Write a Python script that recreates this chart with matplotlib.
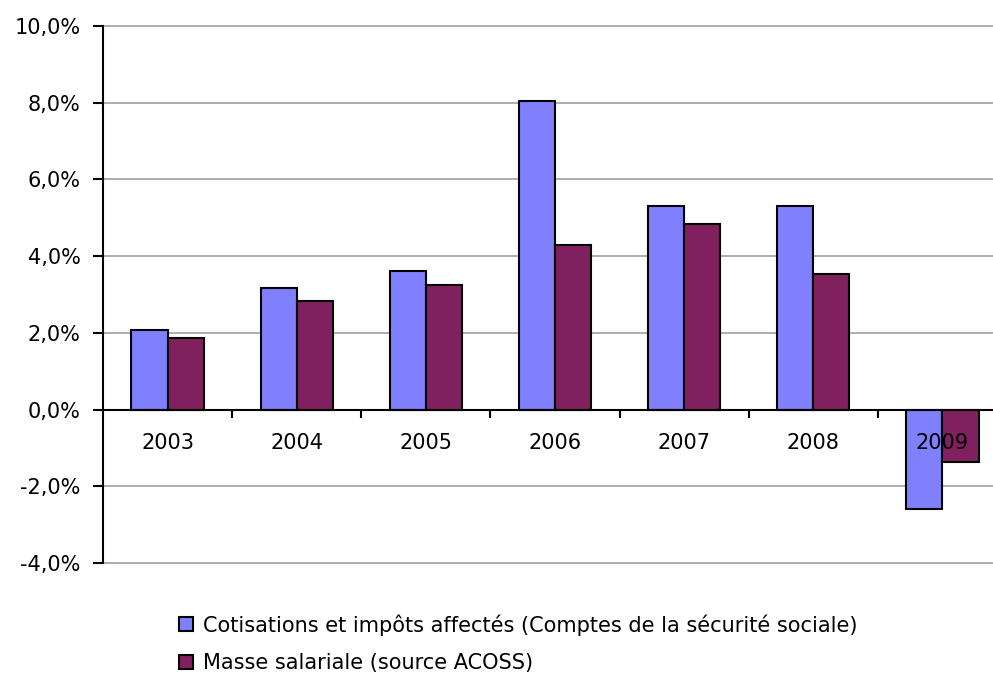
import matplotlib
matplotlib.use("Agg")
import matplotlib.pyplot as plt
import numpy as np

years = ["2003", "2004", "2005", "2006", "2007", "2008", "2009"]
cotisations = [2.08, 3.17, 3.60, 8.04, 5.31, 5.31, -2.58]
masse_salariale = [1.86, 2.84, 3.26, 4.30, 4.83, 3.53, -1.36]
series_labels = ["Cotisations et impôts affectés (Comptes de la sécurité sociale)",
                 "Masse salariale (source ACOSS)"]
yticks = [-4, -2, 0, 2, 4, 6, 8, 10]

plt.rcParams['font.family'] = ['DejaVu Sans']
fs = 15

W, H = 993, 675
fig = plt.figure(figsize=(W / 100, H / 100), dpi=100)
left, right, top, bottom = 103, 1007, 26, 563
ax = fig.add_axes([left / W, 1 - bottom / H, (right - left) / W, (bottom - top) / H])

x = np.arange(len(years))
bw = 0.28
ax.bar(x - bw / 2, cotisations, bw, color="#8080ff", edgecolor="black", linewidth=1.5,
       label=series_labels[0], zorder=3)
ax.bar(x + bw / 2, masse_salariale, bw, color="#80205e", edgecolor="black", linewidth=1.5,
       label=series_labels[1], zorder=3)

ax.set_xlim(-0.5, len(years) - 0.5)
ax.set_ylim(-4, 10)
ax.set_yticks(yticks)
ax.set_yticklabels([f"{v:.1f}%".replace(".", ",") for v in yticks], fontsize=fs)
ax.yaxis.grid(True, color="#a0a0a0", linewidth=1.2, zorder=0)
for gl in ax.get_ygridlines():
    gl.set_clip_on(False)
ax.set_axisbelow(True)

for s in ["top", "right"]:
    ax.spines[s].set_visible(False)
ax.spines["bottom"].set_position(("data", 0))
ax.spines["bottom"].set_linewidth(1.5)
ax.spines["bottom"].set_zorder(4)
ax.spines["left"].set_linewidth(1.5)
ax.tick_params(axis="y", direction="out", length=7, width=1.5, pad=9)
ax.set_xticks(x[:-1] + 0.5)
ax.set_xticklabels([])
ax.tick_params(axis="x", direction="out", length=6, width=1.5)

# year labels sit a little below the zero line
for xi, yr in zip(x, years):
    ax.text(xi, -0.86, yr, ha="center", va="center", fontsize=fs, zorder=5)

fig.legend(loc="upper left", bbox_to_anchor=(179 / W, 1 - 614 / H), frameon=False,
           fontsize=fs, handlelength=0.67, handleheight=0.67, handletextpad=0.48,
           labelspacing=0.85, borderpad=0, borderaxespad=0)

fig.savefig("out.png", dpi=100)
